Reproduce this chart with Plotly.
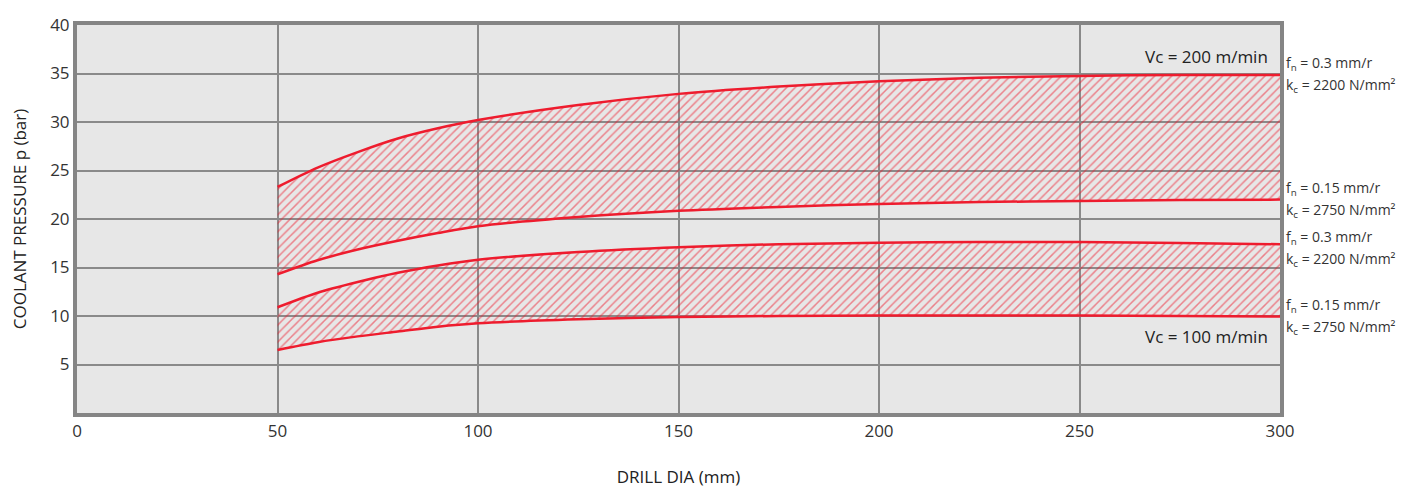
import plotly.graph_objects as go

# drill diameter (mm)
dia = [50, 60, 70, 80, 90, 100, 125, 150, 175, 200, 225, 250, 275, 300]

# coolant pressure (bar)
p200_f03 = [23.3, 25.3, 26.9, 28.3, 29.35, 30.2, 31.75, 32.9, 33.65, 34.2, 34.55, 34.75, 34.85, 34.85]
p200_f015 = [14.3, 15.75, 16.85, 17.75, 18.55, 19.25, 20.2, 20.85, 21.25, 21.55, 21.75, 21.85, 21.95, 22.0]
p100_f03 = [10.9, 12.4, 13.5, 14.45, 15.2, 15.8, 16.6, 17.1, 17.4, 17.55, 17.62, 17.62, 17.52, 17.4]
p100_f015 = [6.5, 7.3, 7.9, 8.4, 8.9, 9.25, 9.66, 9.9, 10.0, 10.05, 10.05, 10.05, 10.0, 9.95]

band_labels = ["Vc = 200 m/min", "Vc = 100 m/min"]
feed_labels = ["f<sub>n</sub> = 0.3 mm/r", "f<sub>n</sub> = 0.15 mm/r"]
kc_labels = ["k<sub>c</sub> = 2200 N/mm²", "k<sub>c</sub> = 2750 N/mm²"]

RED = "#ee1c2e"
FONT = "Open Sans"

fig = go.Figure()

for lower, upper in [(p200_f015, p200_f03), (p100_f015, p100_f03)]:
    fig.add_trace(go.Scatter(x=dia, y=lower, mode="lines",
                             line=dict(color=RED, width=2.5, shape="spline", smoothing=0.8),
                             hoverinfo="skip", showlegend=False))
    fig.add_trace(go.Scatter(x=dia, y=upper, mode="lines", fill="tonexty",
                             fillcolor="rgba(0,0,0,0)",
                             fillpattern=dict(shape="/", fgcolor=RED, bgcolor="rgba(0,0,0,0)",
                                              size=6, solidity=0.25),
                             line=dict(color=RED, width=2.5, shape="spline", smoothing=0.8),
                             hoverinfo="skip", showlegend=False))

# band labels inside the plot
fig.add_annotation(x=dia[-1], y=p200_f03[-1] + 1.9, text=band_labels[0],
                   xanchor="right", yanchor="middle", showarrow=False, xshift=-10,
                   font=dict(family=FONT, size=17, color="#222"))
fig.add_annotation(x=dia[-1], y=p100_f015[-1] - 2.1, text=band_labels[1],
                   xanchor="right", yanchor="middle", showarrow=False, xshift=-10,
                   font=dict(family=FONT, size=17, color="#222"))

# feed / specific cutting force labels right of the plot
ends = [(p200_f03[-1], 0, 0), (p200_f015[-1], 1, 0), (p100_f03[-1], 0, -4), (p100_f015[-1], 1, 0)]
for yv, i, nudge in ends:
    for txt, dy in [(feed_labels[i], 11), (kc_labels[i], -11)]:
        fig.add_annotation(x=1, xref="paper", y=yv, yref="y", text=txt, align="left",
                           xanchor="left", yanchor="middle", showarrow=False,
                           xshift=4, yshift=dy + nudge,
                           font=dict(family=FONT, size=14, color="#333"))

axis_common = dict(showline=True, linecolor="#858585", linewidth=4, mirror=True,
                   showgrid=True, gridcolor="#8a8a8a", gridwidth=1.5,
                   zeroline=False, ticks="", automargin=False,
                   tickfont=dict(family=FONT, size=17, color="#333"))

fig.update_xaxes(range=[0, 300], tickvals=[0, 50, 100, 150, 200, 250, 300],
                 title=dict(text="DRILL DIA (mm)", standoff=31,
                            font=dict(family=FONT, size=17, color="#222")),
                 **axis_common)
fig.update_yaxes(range=[0, 40], tickvals=[5, 10, 15, 20, 25, 30, 35, 40],
                 title=dict(text="COOLANT PRESSURE p (bar)", standoff=24,
                            font=dict(family=FONT, size=17, color="#222")),
                 **axis_common)

# the page body adds an 8px offset, so margins are trimmed by that much
fig.update_layout(width=1405, height=486,
                  margin=dict(l=69, r=133, t=17, b=81),
                  plot_bgcolor="#e7e7e7", paper_bgcolor="white",
                  font=dict(family=FONT))

fig.write_html("out.html")
